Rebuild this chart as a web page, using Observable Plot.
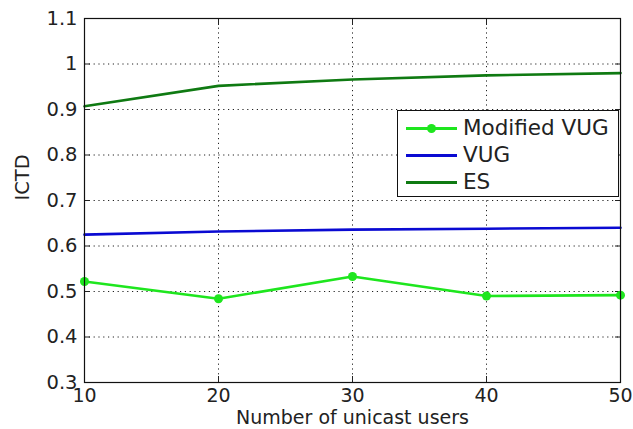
<!DOCTYPE html>
<html>
<head>
<meta charset="utf-8">
<script src="https://cdn.jsdelivr.net/npm/d3@7"></script>
<script src="https://cdn.jsdelivr.net/npm/@observablehq/plot@0.6"></script>
<style>
  html, body { margin: 0; padding: 0; background: #fff; }
  #wrap { position: relative; width: 633px; height: 429px; font-family: "DejaVu Sans", sans-serif; }
  #legend { position: absolute; left: 397px; top: 110px; width: 222px; height: 87px;
            background: #fff; border: 1px solid #111; box-sizing: border-box; }
  .row { position: absolute; left: 0; height: 26px; display: flex; align-items: center; }
  .sample { position: relative; width: 51px; margin-left: 8px; margin-right: 6px; }
  .sample .ln { position: absolute; left: 0; right: 0; top: -1.5px; height: 3px; }
  .sample .mk { position: absolute; left: 21px; top: -4.5px; width: 9px; height: 9px; border-radius: 50%; }
  .lbl { font-size: 21.5px; color: #222; line-height: 26px; }
</style>
</head>
<body>
<div id="wrap"></div>
<script>
const users = [10, 20, 30, 40, 50];
const modifiedVUG = [0.522, 0.484, 0.533, 0.490, 0.492];
const vug = [0.625, 0.632, 0.636, 0.638, 0.640];
const es = [0.907, 0.952, 0.966, 0.975, 0.980];

const xTicks = [10, 20, 30, 40, 50];
const yTicks = [0.3, 0.4, 0.5, 0.6, 0.7, 0.8, 0.9, 1.0, 1.1];
const yTickLabels = ["0.3", "0.4", "0.5", "0.6", "0.7", "0.8", "0.9", "1", "1.1"];

const seriesNames = ["Modified VUG", "VUG", "ES"];
const seriesColors = ["#1ee61e", "#0a0ad2", "#0f7a12"];
const seriesMarkers = [true, false, false];
const seriesValues = [modifiedVUG, vug, es];

const rows = [];
seriesNames.forEach((name, i) => {
  users.forEach((u, j) => rows.push({series: name, users: u, value: seriesValues[i][j]}));
});

const plot = Plot.plot({
  width: 633,
  height: 429,
  marginLeft: 84,
  marginRight: 13,
  marginTop: 18,
  marginBottom: 47,
  style: {fontFamily: "DejaVu Sans, sans-serif", fontSize: "20px", color: "#222", background: "#fff"},
  x: {domain: [10, 50]},
  y: {domain: [0.3, 1.1]},
  marks: [
    Plot.gridX(xTicks, {stroke: "#222", strokeOpacity: 1, strokeDasharray: "1.2,3.6"}),
    Plot.gridY(yTicks, {stroke: "#222", strokeOpacity: 1, strokeDasharray: "1.2,3.6"}),
    Plot.axisX(xTicks, {anchor: "bottom", tickSize: 0, tickPadding: 6, tickFormat: d => String(d), fontSize: 19,
      label: null}),
    Plot.axisY(yTicks, {anchor: "left", tickSize: 0, tickPadding: 7, tickFormat: (d, i) => yTickLabels[i], fontSize: 19.5,
      label: null}),
    Plot.text(["Number of unicast users"], {frameAnchor: "bottom", dy: 41, fontSize: 19, fill: "#222"}),
    Plot.text(["ICTD"], {frameAnchor: "left", dx: -62, rotate: -90, fontSize: 19.5, fill: "#222"}),
    Plot.axisX(xTicks, {anchor: "bottom", tickSize: -6, tickFormat: () => "", label: null}),
    Plot.axisX(xTicks, {anchor: "top", tickSize: -6, tickFormat: () => "", label: null}),
    Plot.axisY(yTicks, {anchor: "left", tickSize: -6, tickFormat: () => "", label: null}),
    Plot.axisY(yTicks, {anchor: "right", tickSize: -6, tickFormat: () => "", label: null}),
    Plot.lineY(rows, {x: "users", y: "value", z: "series",
      stroke: d => seriesColors[seriesNames.indexOf(d.series)], strokeWidth: 2.6}),
    Plot.dot(rows.filter(d => seriesMarkers[seriesNames.indexOf(d.series)]),
      {x: "users", y: "value", r: 4.5, fill: d => seriesColors[seriesNames.indexOf(d.series)], stroke: "none"}),
    Plot.frame({stroke: "#111", strokeWidth: 1.2})
  ]
});

const wrap = document.getElementById("wrap");
wrap.appendChild(plot);

const legend = document.createElement("div");
legend.id = "legend";
seriesNames.forEach((name, i) => {
  const row = document.createElement("div");
  row.className = "row";
  row.style.top = (4 + i * 27) + "px";
  const s = document.createElement("div");
  s.className = "sample";
  const ln = document.createElement("div");
  ln.className = "ln";
  ln.style.background = seriesColors[i];
  s.appendChild(ln);
  if (seriesMarkers[i]) {
    const mk = document.createElement("div");
    mk.className = "mk";
    mk.style.background = seriesColors[i];
    s.appendChild(mk);
  }
  const t = document.createElement("span");
  t.className = "lbl";
  t.textContent = name;
  row.appendChild(s);
  row.appendChild(t);
  legend.appendChild(row);
});
wrap.appendChild(legend);
</script>
</body>
</html>
